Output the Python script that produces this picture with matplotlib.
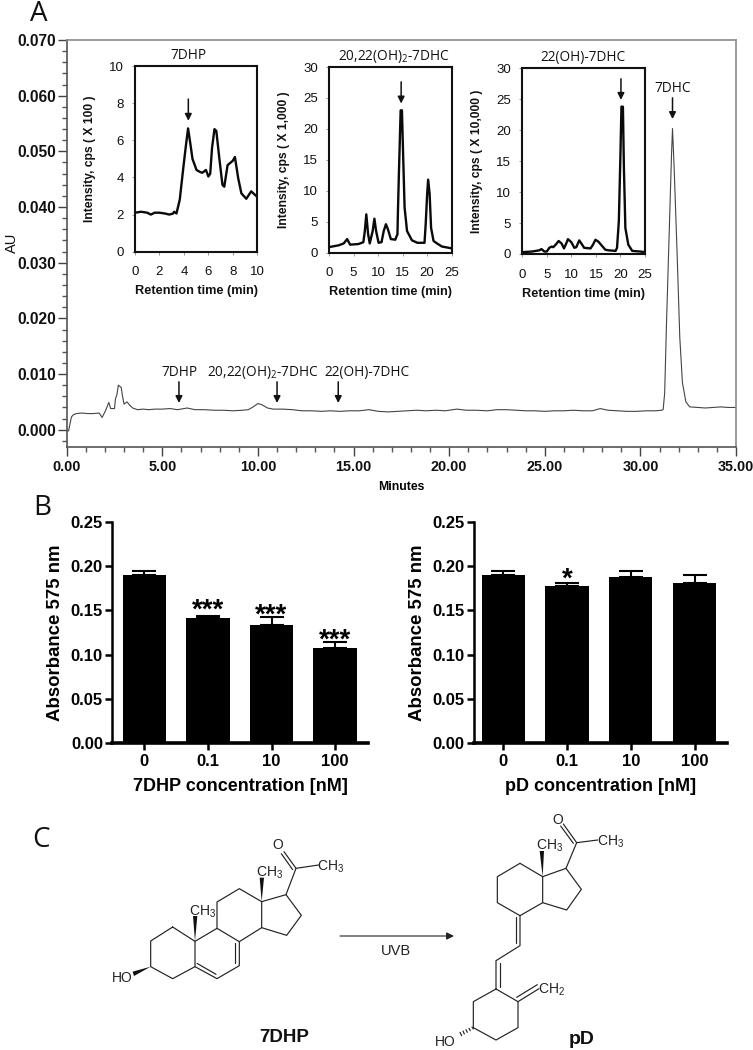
import matplotlib
matplotlib.use("Agg")
import matplotlib.pyplot as plt
from matplotlib.patches import Polygon
from matplotlib.ticker import MultipleLocator
from matplotlib.transforms import ScaledTranslation

W, H = 753, 1050

# main chromatogram
trace_t = [0.0, 0.1, 0.18, 0.25, 0.35, 0.5, 0.8, 1.1, 1.4, 1.7, 1.85, 2.0, 2.1, 2.2, 2.3, 2.5, 2.55, 2.62, 2.7,
           2.85, 2.92, 3.0, 3.15, 3.3, 3.45, 3.7, 4.0, 4.3, 4.6, 5.0, 5.4, 5.8, 6.3, 6.7, 7.2, 7.7, 8.2, 8.7, 9.2, 9.5,
           9.75, 10.0, 10.2, 10.5, 10.8, 11.3, 11.8, 12.3, 12.8, 13.3, 13.8, 14.3, 14.8, 15.3, 15.8, 16.3,
           16.8, 17.3, 17.8, 18.3, 18.8, 19.3, 19.8, 20.4, 20.9, 21.4, 22.0, 22.5, 23.0, 23.5, 24.0, 24.5, 25.0, 25.5,
           26.0, 26.5, 27.0, 27.5, 27.9, 28.3, 28.8, 29.3, 29.8, 30.3, 30.8, 31.1, 31.19, 31.27, 31.36, 31.5, 31.63,
           31.68, 31.77, 31.92, 32.06, 32.2, 32.38, 32.58, 33.0, 33.4, 33.8, 34.2, 34.6, 35.0]
trace_au = [-0.0002, -0.0002, 0.0012, 0.0023, 0.0027, 0.0029, 0.0030, 0.0029, 0.0029, 0.0030, 0.0022, 0.0032, 0.0040,
            0.0049, 0.0038, 0.0038, 0.0056, 0.0062, 0.0080, 0.0076, 0.0060, 0.0046, 0.0050, 0.0044, 0.0039, 0.0036,
            0.0037, 0.0036, 0.0037, 0.0037, 0.0038, 0.0036, 0.0039, 0.0036, 0.0036, 0.0035, 0.0035, 0.0034, 0.0035,
            0.0036, 0.0041, 0.0047, 0.0045, 0.0039, 0.0037, 0.0037, 0.0036, 0.0034, 0.0034, 0.0033, 0.0034, 0.0033,
            0.0034, 0.0034, 0.0036, 0.0033, 0.0032, 0.0033, 0.0034, 0.0035, 0.0034, 0.0035, 0.0034, 0.0037, 0.0035,
            0.0035, 0.0034, 0.0036, 0.0036, 0.0035, 0.0034, 0.0034, 0.0033, 0.0034, 0.0034, 0.0035, 0.0034, 0.0034,
            0.0038, 0.0035, 0.0034, 0.0033, 0.0033, 0.0034, 0.0034, 0.0035, 0.0036, 0.0066, 0.0184, 0.0346, 0.0496,
            0.0541, 0.0466, 0.0317, 0.0166, 0.0084, 0.0050, 0.0041, 0.0040, 0.0039, 0.0040, 0.0041, 0.0040, 0.0040]
main_arrow_t = [5.87, 11.0, 14.2]
main_arrow_labels = ["7DHP", "20,22(OH)$_2$-7DHC", "22(OH)-7DHC"]
main_label_t = [5.87, 10.26, 15.7]

# LC-MS insets
dhp_t = [0, 0.5, 1, 1.3, 1.6, 2, 2.5, 2.8, 3.1, 3.2, 3.39, 3.66, 3.93, 4.15, 4.34, 4.53, 4.7, 5.03, 5.3, 5.5, 5.8,
         6.0, 6.15, 6.3, 6.5, 6.65, 6.9, 7.15, 7.3, 7.57, 8.0, 8.17, 8.44, 8.7, 9.1, 9.5, 10]
dhp_v = [2.1, 2.15, 2.1, 2.0, 2.1, 2.1, 2.05, 2.0, 2.05, 2.15, 2.06, 2.8, 4.4, 5.65, 6.64, 5.8, 5.0, 4.4, 4.3,
         4.25, 4.4, 4.05, 4.2, 5.6, 6.6, 6.5, 5.0, 3.6, 3.5, 4.66, 4.9, 5.1, 3.95, 3.14, 2.85, 3.25, 2.95]
oh2_t = [0, 2, 3, 3.7, 4.3, 6, 7, 7.3, 7.6, 7.97, 8.3, 8.9, 9.25, 9.6, 10.1, 10.7, 11.15, 11.6, 12.0, 12.6, 13.5,
         13.95, 14.05, 14.26, 14.6, 14.86, 15.07, 15.4, 15.9, 16.9, 18, 19.46, 19.7, 20, 20.2, 20.5, 20.8, 21.3, 22,
         23, 25]
oh2_v = [0.9, 1.2, 1.5, 2.2, 1.3, 1.4, 1.7, 3.5, 6.2, 3, 1.5, 3.5, 5.5, 3.5, 1.6, 1.7, 3.5, 4.6, 3.8, 2.2, 2.1,
         3, 6.8, 13.3, 23, 23, 16.8, 7.3, 3.5, 2.0, 1.6, 1.6, 4.6, 9.5, 11.8, 9.5, 4, 1.9, 1.5, 1.0, 0.7]
oh_t = [0, 2, 3.5, 3.9, 4.5, 5, 5.5, 6, 6.3, 6.8, 7.4, 8, 8.5, 9, 9.3, 10, 10.6, 11, 11.6, 12.2, 12.6, 13.9, 14.4,
        14.9, 15.5, 16.9, 17.5, 19, 19.3, 19.67, 20, 20.2, 20.5, 20.7, 21, 21.6, 22.4, 24, 25]
oh_v = [0.3, 0.4, 0.6, 0.8, 0.4, 0.4, 1.0, 1.2, 1.1, 1.5, 2.1, 1.7, 0.9, 1.8, 2.4, 1.9, 1.0, 1.1, 2.2, 1.5, 1.0, 0.9,
        1.5, 2.3, 2.0, 0.7, 0.6, 0.5, 1.0, 5.3, 16.2, 23.8, 23.8, 14, 4.2, 1.5, 0.5, 0.4, 0.3]

# bar panels
conc = ["0", "0.1", "10", "100"]
dhp_abs = [0.190, 0.141, 0.133, 0.108]
dhp_err = [0.004, 0.003, 0.009, 0.006]
dhp_stars = ["", "***", "***", "***"]
dhp_star_y = [0, 0.153, 0.147, 0.119]
pd_abs = [0.190, 0.177, 0.188, 0.181]
pd_err = [0.004, 0.004, 0.006, 0.009]
pd_stars = ["", "*", "", ""]
pd_star_y = [0, 0.188, 0, 0]

plt.rcParams['font.family'] = ['Liberation Sans', 'DejaVu Sans']
plt.rcParams['mathtext.default'] = 'regular'
plt.rcParams['axes.linewidth'] = 1.0

fig = plt.figure(figsize=(W / 100, H / 100), dpi=100)


def px_axes(left, top, right, bottom):
    return fig.add_axes([left / W, 1 - bottom / H, (right - left) / W, (bottom - top) / H])


def arrow(ax, x, y_from, y_to, lw=1.1, scale=10):
    ax.annotate('', xy=(x, y_to), xytext=(x, y_from),
                arrowprops=dict(arrowstyle='-|>', color='#111111', lw=lw, shrinkA=0, shrinkB=0,
                                mutation_scale=scale))


# panel A
ax = px_axes(66.7, 40, 736, 446.7)
ax.plot(trace_t, trace_au, color='#444444', lw=0.8)
ax.set_xlim(0, 35)
ax.set_ylim(-0.00305, 0.070)
for s in ['top', 'right']:
    ax.spines[s].set_color('#8a8a8a')
    ax.spines[s].set_linewidth(1.2)
for s in ['left', 'bottom']:
    ax.spines[s].set_color('#555555')
    ax.spines[s].set_linewidth(1.2)
ax.xaxis.set_major_locator(MultipleLocator(5))
ax.xaxis.set_minor_locator(MultipleLocator(1))
ax.yaxis.set_major_locator(MultipleLocator(0.01))
ax.yaxis.set_minor_locator(MultipleLocator(0.002))
ax.xaxis.set_major_formatter(lambda v, p: f"{v:.2f}")
ax.yaxis.set_major_formatter(lambda v, p: f"{v:.3f}")
ax.tick_params(which='major', length=6.5, width=1.0, color='#444444', pad=3)
ax.tick_params(which='minor', length=3.5, width=1.0, color='#555555')
ax.tick_params(axis='y', which='major', pad=1)
for lab in ax.get_yticklabels():
    lab.set_fontsize(11.2)
    lab.set_fontweight('bold')
    lab.set_color('#111111')
for lab in ax.get_xticklabels():
    lab.set_fontsize(10.4)
    lab.set_fontweight('bold')
    lab.set_color('#111111')
# last label sits against the figure edge, nudge it in
last = ax.xaxis.get_major_ticks()[-1].label1
last.set_transform(last.get_transform() + ScaledTranslation(-3 / 72, 0, fig.dpi_scale_trans))
ax.set_xlabel("Minutes", fontsize=8.8, fontweight='bold', labelpad=5)
ax.text(-0.082, 0.0335, "AU", rotation=90, fontsize=10.5, ha='center', va='center',
        transform=ax.get_yaxis_transform(), color='#111111')
for t, lab, lt in zip(main_arrow_t, main_arrow_labels, main_label_t):
    ax.text(lt, 0.0102, lab, ha='center', va='center', fontsize=9.8, family=['Open Sans', 'DejaVu Sans'],
            color='#111111')
    arrow(ax, t, 0.0086, 0.0048)
ax.text(31.68, 0.0613, "7DHC", ha='center', va='center', fontsize=9.8, family=['Open Sans', 'DejaVu Sans'],
        color='#111111')
arrow(ax, 31.68, 0.0596, 0.0558)

insets = [
    (135, 66, 257.3, 251.7, dhp_t, dhp_v, 10, 2, 2, "7DHP", 188, "Intensity, cps ( X 100 )", 4.36, 8.22, 7.05),
    (329, 67, 451.7, 252.7, oh2_t, oh2_v, 25, 5, 5, "20,22(OH)$_2$-7DHC", 393.5, "Intensity, cps ( X 1,000 )", 14.7, 27.6, 24.1),
    (522.3, 68.3, 645, 254, oh_t, oh_v, 25, 5, 5, "22(OH)-7DHC", 582.7, "Intensity, cps ( X 10,000 )", 20.1, 28.3, 24.9),
]
for left, top, right, bottom, xs, ys, xmax, xstep, ystep, title, title_x, ylab, at, a0, a1 in insets:
    axi = px_axes(left, top, right, bottom)
    axi.plot(xs, ys, color='#0a0a0a', lw=1.7, solid_joinstyle='round')
    axi.set_xlim(0, xmax)
    axi.set_ylim(0, 10 if xmax == 10 else 30)
    axi.xaxis.set_major_locator(MultipleLocator(xstep))
    axi.yaxis.set_major_locator(MultipleLocator(ystep))
    for s in axi.spines.values():
        s.set_linewidth(1.5)
        s.set_color('#111111')
    axi.tick_params(length=2.5, width=0.6, color='#888888', labelsize=9.5, pad=8, labelcolor='#111111')
    axi.tick_params(axis='y', pad=5.5)
    axi.set_xlabel("Retention time (min)", fontsize=9.2, fontweight='bold', labelpad=5, color='#111111')
    axi.set_ylabel(ylab, fontsize=8.7, fontweight='bold', color='#111111')
    axi.yaxis.set_label_coords(-39 / (right - left), 0.5)
    axi.set_title(title, fontsize=9.8, family=['Open Sans', 'DejaVu Sans'], pad=5, color='#111111',
                  x=(title_x - left) / (right - left))
    arrow(axi, at, a0, a1)

# panel B
bars = [
    (112, 368, -0.508, 3.517, dhp_abs, dhp_err, dhp_stars, dhp_star_y, "7DHP concentration [nM]"),
    (473.5, 727, -0.47, 3.51, pd_abs, pd_err, pd_stars, pd_star_y, "pD concentration [nM]"),
]
for left, right, x0, x1, vals, errs, stars, star_y, xlab in bars:
    axb = px_axes(left, 521.7, right, 743.3)
    xpos = list(range(len(conc)))
    axb.bar(xpos, vals, width=0.68, color='black')
    axb.errorbar(xpos, vals, yerr=[[0] * len(errs), errs], fmt='none', ecolor='black', elinewidth=1.5,
                 capsize=8.5, capthick=1.5)
    axb.set_xlim(x0, x1)
    axb.set_ylim(0, 0.25)
    axb.set_xticks(xpos, conc)
    axb.yaxis.set_major_locator(MultipleLocator(0.05))
    axb.yaxis.set_major_formatter(lambda v, p: f"{v:.2f}")
    axb.spines['top'].set_visible(False)
    axb.spines['right'].set_visible(False)
    axb.spines['left'].set_linewidth(1.8)
    axb.spines['bottom'].set_linewidth(2.6)
    axb.tick_params(length=5, width=1.8, pad=3)
    axb.tick_params(axis='y', pad=1.5)
    for lab in axb.get_xticklabels() + axb.get_yticklabels():
        lab.set_fontsize(12)
        lab.set_fontweight('bold')
    axb.set_ylabel("Absorbance 575 nm", fontsize=13.4, fontweight='bold', labelpad=4.5)
    axb.set_xlabel(xlab, fontsize=13, fontweight='bold', labelpad=6)
    for i, star in enumerate(stars):
        if star:
            axb.text(xpos[i], star_y[i] - 0.0179, star, ha='center', va='bottom', fontsize=20,
                     fontweight='bold')

# panel letters and structures, drawn on a pixel overlay
ov = fig.add_axes([0, 0, 1, 1], facecolor='none')
ov.set_xlim(0, W)
ov.set_ylim(H, 0)
ov.axis('off')
for letter, lx, ly in [("A", 38.5, 21), ("B", 42, 515), ("C", 41, 847)]:
    ov.text(lx, ly, letter, fontsize=20, family=['Open Sans', 'DejaVu Sans'], ha='center', va='baseline',
            color='#111111')

# bonds are read in zoomed crops: (x0, y0) offset, 3x scale
dhp_bonds = [
    [(338, 381), (272, 423), (272, 500), (338, 536), (405, 500), (405, 424), (338, 381)],
    [(405, 424), (471, 385), (538, 425), (538, 497), (471, 536), (405, 500)],
    [(411, 490), (468, 523)], [(526, 430), (526, 490)],
    [(471, 385), (471, 306), (538, 266), (605, 305), (605, 383), (538, 425)],
    [(605, 305), (678, 284), (724, 346), (680, 406), (605, 383)],
    [(678, 284), (708, 205), (776, 195)],
    [(708, 205), (672, 155)], [(698, 209), (664, 161)],
]
dhp_wedges = [[(405, 424), (399, 348), (412, 348)], [(605, 305), (599, 233), (612, 233)],
              [(272, 500), (218, 515), (222, 528)]]
dhp_text = [("O", 654, 135), ("CH$_3$", 813, 199), ("CH$_3$", 628, 218), ("CH$_3$", 428, 334), ("HO", 186, 534)]

pd_bonds = [
    [(570, 190), (502, 230), (502, 308), (570, 347), (638, 308), (638, 230), (570, 190)],
    [(638, 230), (708, 205), (754, 268), (710, 330), (638, 308)],
    [(708, 205), (740, 128), (803, 120)],
    [(740, 128), (700, 72)], [(730, 130), (692, 78)],
    [(570, 347), (570, 437), (498, 482), (498, 567)],
    [(558, 352), (558, 430)], [(511, 490), (511, 560)],
    [(498, 567), (430, 605), (430, 683), (498, 720), (564, 683), (564, 605), (498, 567)],
    [(564, 605), (627, 566)], [(560, 592), (622, 554)],
]
pd_wedges = [[(638, 230), (629, 153), (642, 153)]]
pd_text = [("O", 682, 60), ("CH$_3$", 841, 124), ("CH$_3$", 660, 138), ("CH$_2$", 665, 568), ("HO", 347, 727)]
hash_marks = [[(426, 681), (430, 687)], [(417, 685), (421, 692)], [(408, 689), (412, 697)],
              [(399, 693), (403, 702)], [(390, 697), (395, 707)]]


def structure(x0, y0, bonds, wedges, labels):
    for b in bonds:
        ov.plot([x0 + p[0] / 3 for p in b], [y0 + p[1] / 3 for p in b], color='#222222', lw=0.85,
                solid_capstyle='round')
    for w in wedges:
        ov.add_patch(Polygon([(x0 + p[0] / 3, y0 + p[1] / 3) for p in w], color='#111111', lw=0))
    for s, x, y in labels:
        ov.text(x0 + x / 3, y0 + y / 3, s, fontsize=10, ha='center', va='center', color='#222222')


structure(60, 800, dhp_bonds, dhp_wedges, dhp_text)
structure(330, 800, pd_bonds + hash_marks, pd_wedges, pd_text)
ov.text(284, 1038, "7DHP", fontsize=13.5, fontweight='bold', ha='center', va='center', color='#111111')
ov.text(582, 1040, "pD", fontsize=14, fontweight='bold', ha='center', va='center', color='#111111')
ov.annotate('', xy=(454, 936), xytext=(340, 936),
            arrowprops=dict(arrowstyle='-|>', color='#222222', lw=0.8, shrinkA=0, shrinkB=0, mutation_scale=11))
ov.text(396, 951, "UVB", fontsize=10.5, ha='center', va='center', color='#222222')

fig.savefig('out.png', dpi=100)
